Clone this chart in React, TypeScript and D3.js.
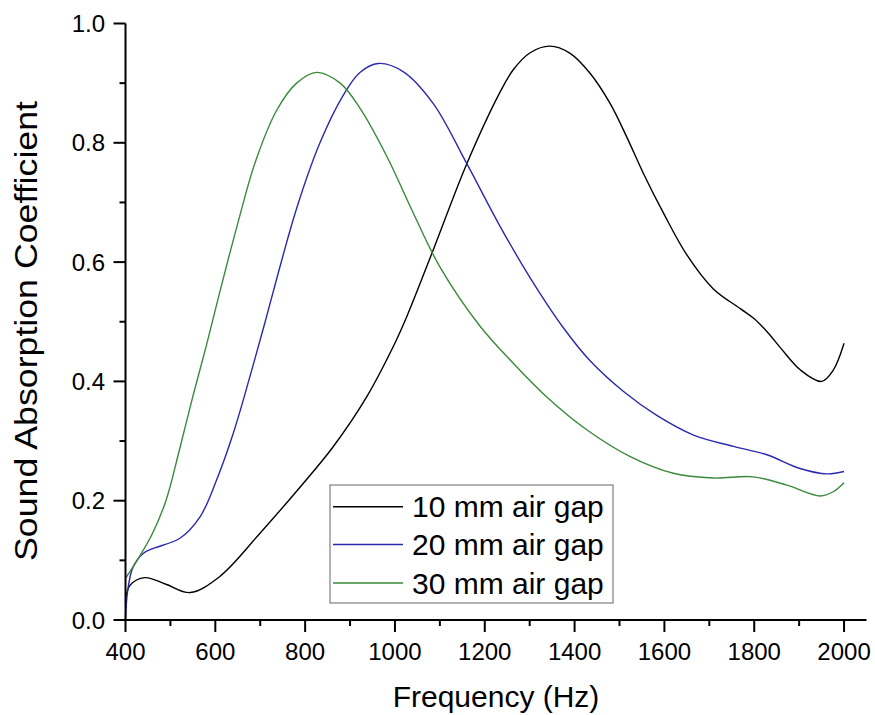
import React from "react";
import * as d3 from "d3";

const freq10 = [400, 410, 443, 490, 544, 610, 700, 789, 862, 937, 996, 1026, 1085, 1160, 1234, 1263, 1301, 1345, 1390, 1434, 1479, 1516, 1553, 1598, 1650, 1709, 1769, 1800, 1830, 1860, 1903, 1950, 1976, 2000];
const abs10 = [0.033, 0.058, 0.071, 0.06, 0.046, 0.073, 0.146, 0.223, 0.29, 0.374, 0.458, 0.508, 0.62, 0.765, 0.885, 0.922, 0.951, 0.962, 0.95, 0.917, 0.866, 0.81, 0.749, 0.682, 0.612, 0.555, 0.522, 0.505, 0.482, 0.455, 0.419, 0.4, 0.419, 0.464];

const freq20 = [400, 405, 417, 440, 462, 521, 566, 603, 640, 677, 711, 737, 781, 833, 885, 922, 963, 1019, 1085, 1160, 1234, 1300, 1375, 1434, 1509, 1583, 1665, 1754, 1828, 1902, 1962, 2000];
const abs20 = [0.0, 0.05, 0.089, 0.112, 0.12, 0.137, 0.173, 0.235, 0.313, 0.408, 0.5, 0.573, 0.69, 0.8, 0.88, 0.918, 0.933, 0.919, 0.866, 0.765, 0.66, 0.575, 0.49, 0.435, 0.383, 0.343, 0.31, 0.291, 0.277, 0.254, 0.245, 0.249];

const freq30 = [400, 430, 460, 490, 520, 550, 580, 610, 650, 690, 737, 781, 826, 878, 922, 982, 1041, 1100, 1190, 1264, 1338, 1427, 1524, 1620, 1709, 1798, 1873, 1947, 1976, 2000];
const abs30 = [0.07, 0.105, 0.145, 0.2, 0.285, 0.375, 0.46, 0.55, 0.665, 0.77, 0.855, 0.9, 0.918, 0.9, 0.858, 0.777, 0.682, 0.592, 0.492, 0.43, 0.374, 0.319, 0.274, 0.246, 0.238, 0.24, 0.226, 0.208, 0.215, 0.23];

const seriesNames = ["10 mm air gap", "20 mm air gap", "30 mm air gap"];
const seriesColors = ["#000000", "#2a2ab0", "#3a8a3a"];

const xMajorTicks = [400, 600, 800, 1000, 1200, 1400, 1600, 1800, 2000];
const xMinorTicks = [500, 700, 900, 1100, 1300, 1500, 1700, 1900];
const yMajorTicks = [0, 0.2, 0.4, 0.6, 0.8, 1.0];
const yMinorTicks = [0.1, 0.3, 0.5, 0.7, 0.9];

const xTitle = "Frequency (Hz)";
const yTitle = "Sound Absorption Coefficient";

export default function App() {
  const x = d3.scaleLinear().domain([400, 2050]).range([125.5, 866.5]);
  const y = d3.scaleLinear().domain([0, 1]).range([620, 23.5]);
  const line = d3
    .line<[number, number]>()
    .x((d) => x(d[0]))
    .y((d) => y(d[1]))
    .curve(d3.curveCatmullRom.alpha(0.5));

  const series = [
    { f: freq10, v: abs10 },
    { f: freq20, v: abs20 },
    { f: freq30, v: abs30 },
  ];

  const font = "Arial, 'Liberation Sans', sans-serif";
  const legendX = 330;
  const legendY = 485;
  const legendRows = [506.7, 544.5, 583];

  return (
    <svg
      width={875}
      height={715}
      style={{ position: "absolute", left: 0, top: 0, background: "#fff" }}
      fontFamily={font}
    >
      <rect x={0} y={0} width={875} height={715} fill="#fff" />
      {series.map((s, i) => (
        <path
          key={i}
          d={line(s.f.map((f, j) => [f, s.v[j]] as [number, number])) || ""}
          fill="none"
          stroke={seriesColors[i]}
          strokeWidth={1.4}
        />
      ))}
      {/* axes */}
      <line x1={x(400)} x2={x(2050)} y1={y(0)} y2={y(0)} stroke="#000" strokeWidth={2} />
      <line x1={x(400)} x2={x(400)} y1={y(0) + 1} y2={y(1)} stroke="#000" strokeWidth={2} />
      {xMajorTicks.map((t) => (
        <g key={"xm" + t}>
          <line x1={x(t)} x2={x(t)} y1={y(0)} y2={y(0) + 12} stroke="#000" strokeWidth={2} />
          <text x={x(t)} y={660} textAnchor="middle" fontSize={24} fill="#000">
            {t}
          </text>
        </g>
      ))}
      {xMinorTicks.map((t) => (
        <line key={"xn" + t} x1={x(t)} x2={x(t)} y1={y(0)} y2={y(0) + 6} stroke="#000" strokeWidth={2} />
      ))}
      {yMajorTicks.map((t) => (
        <g key={"ym" + t}>
          <line x1={x(400)} x2={x(400) - 12} y1={y(t)} y2={y(t)} stroke="#000" strokeWidth={2} />
          <text x={105} y={y(t) + 8.5} textAnchor="end" fontSize={24} fill="#000">
            {t.toFixed(1)}
          </text>
        </g>
      ))}
      {yMinorTicks.map((t) => (
        <line key={"yn" + t} x1={x(400)} x2={x(400) - 6} y1={y(t)} y2={y(t)} stroke="#000" strokeWidth={2} />
      ))}
      <text x={496} y={707} textAnchor="middle" fontSize={30} fill="#000">
        {xTitle}
      </text>
      <text
        transform={`translate(37, 331) rotate(-90)`}
        textAnchor="middle"
        fontSize={32}
        textLength={460}
        lengthAdjust="spacingAndGlyphs"
        fill="#000"
      >
        {yTitle}
      </text>
      {/* legend */}
      <rect x={legendX} y={legendY} width={283} height={118} fill="#fff" stroke="#666" strokeWidth={1} />
      {seriesNames.map((n, i) => (
        <g key={n}>
          <line x1={333} x2={403} y1={legendRows[i]} y2={legendRows[i]} stroke={seriesColors[i]} strokeWidth={1.4} />
          <text x={412} y={legendRows[i] + 10.5} fontSize={30} fill="#000">
            {n}
          </text>
        </g>
      ))}
    </svg>
  );
}
